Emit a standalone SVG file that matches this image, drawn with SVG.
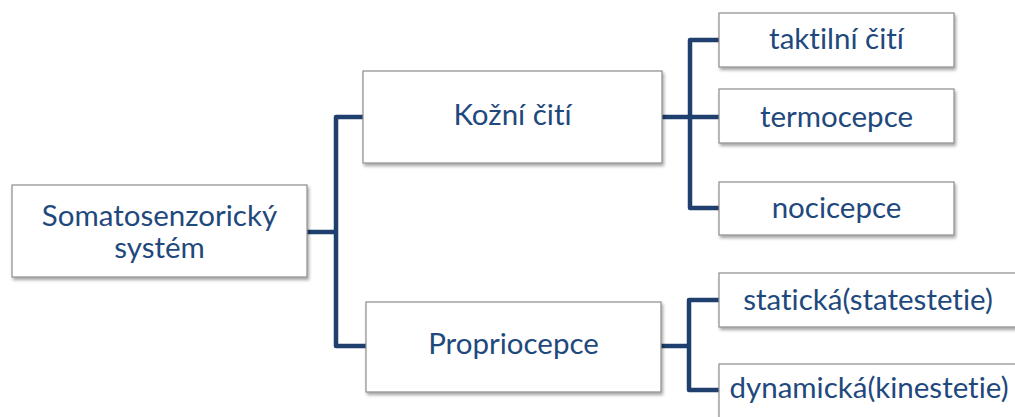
<svg xmlns="http://www.w3.org/2000/svg" width="1015" height="417" viewBox="0 0 1015 417">
  <defs>
    <filter id="shadow" x="-5%" y="-10%" width="115%" height="130%">
      <feDropShadow dx="1.5" dy="2.5" stdDeviation="1.5" flood-color="#000" flood-opacity="0.35"/>
    </filter>
  </defs>
  <style>
    .box { fill: #ffffff; stroke: #8c8c8c; stroke-width: 1.2; filter: url(#shadow); }
    .label { font-family: Lato, "Open Sans", sans-serif; font-size: 29.5px; fill: #1f497d; text-anchor: middle; font-variant-ligatures: none; }
    .link { fill: none; stroke: #1f3f6e; stroke-width: 4.5; stroke-linejoin: round; }
  </style>
  <rect width="1015" height="417" fill="#ffffff"/>

  <!-- connectors -->
  <g id="connectors">
    <path class="link" d="M307,232 H336"/>
    <path class="link" d="M363,117 H336 V346 H366"/>
    <path class="link" d="M662,117 H719"/>
    <path class="link" d="M719,40 H690 V208 H719"/>
    <path class="link" d="M661,346 H689"/>
    <path class="link" d="M719,300 H689 V390 H719"/>
  </g>

  <g id="root">
    <rect class="box" x="12" y="185" width="295" height="92"/>
    <text class="label" x="159.5" y="226">Somatosenzorický</text>
    <text class="label" x="159.5" y="258">systém</text>
  </g>

  <g id="kozni-citi">
    <rect class="box" x="363" y="71" width="299" height="92"/>
    <text class="label" x="512.5" y="125">Kožní čití</text>
  </g>

  <g id="propriocepce">
    <rect class="box" x="366" y="302" width="295" height="90"/>
    <text class="label" x="513.5" y="354">Propriocepce</text>
  </g>

  <g id="taktilni-citi">
    <rect class="box" x="719" y="13" width="235" height="54"/>
    <text class="label" x="836.5" y="49">taktilní čití</text>
  </g>

  <g id="termocepce">
    <rect class="box" x="719" y="89" width="235" height="54"/>
    <text class="label" x="836.5" y="127">termocepce</text>
  </g>

  <g id="nocicepce">
    <rect class="box" x="719" y="182" width="235" height="53"/>
    <text class="label" x="836.5" y="218">nocicepce</text>
  </g>

  <g id="staticka">
    <rect class="box" x="719" y="273" width="300" height="54"/>
    <text class="label" x="868" y="310">statická(statestetie)</text>
  </g>

  <g id="dynamicka">
    <rect class="box" x="719" y="364" width="300" height="56"/>
    <text class="label" x="869" y="398">dynamická(kinestetie)</text>
  </g>
</svg>
